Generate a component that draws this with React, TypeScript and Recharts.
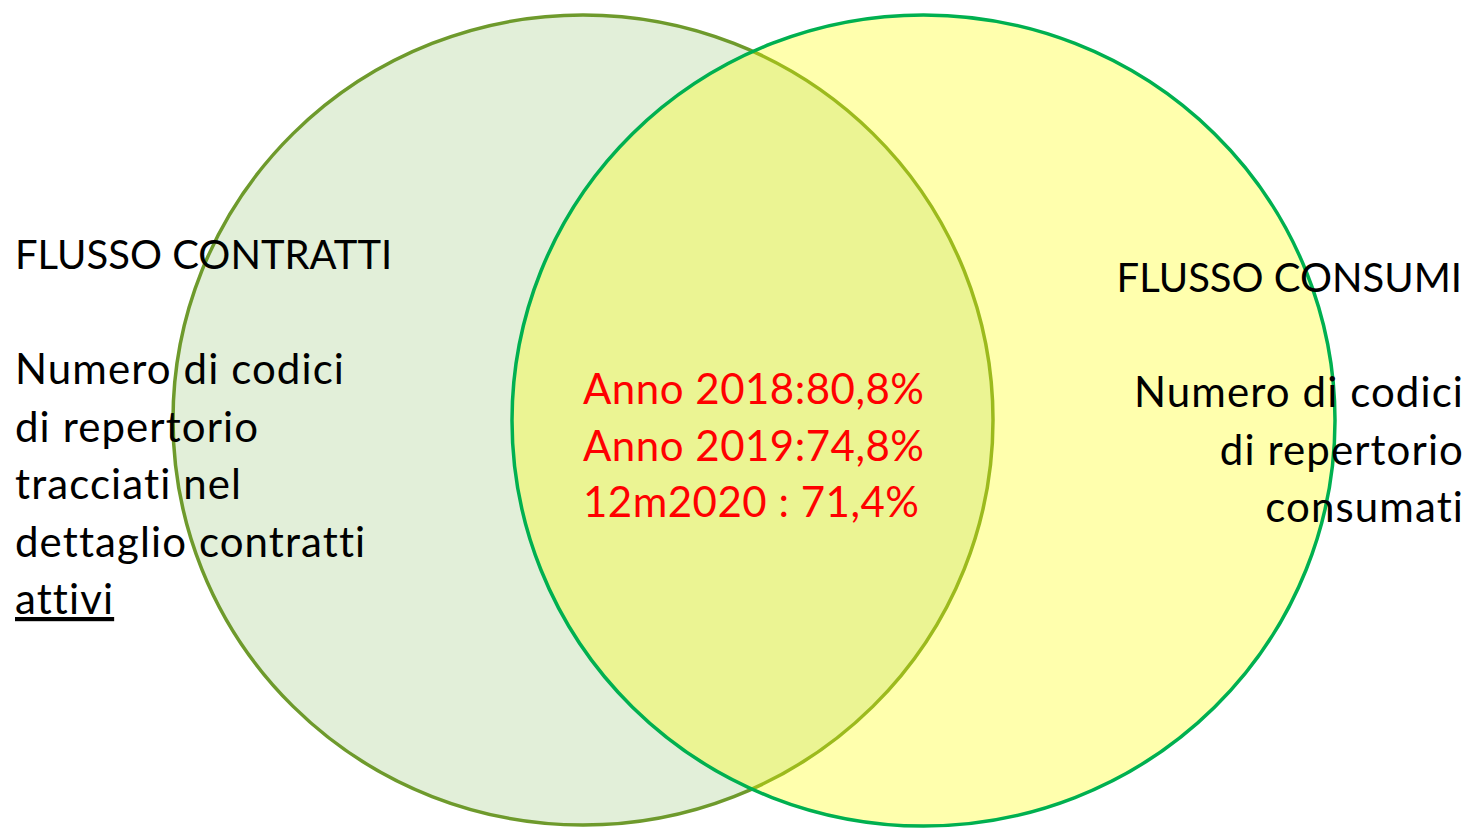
import React from "react";
import { Scatter, ScatterChart, XAxis, YAxis } from "recharts";

// the two sets, in page units (1 unit = 1 px)
const setNames = ["FLUSSO CONTRATTI", "FLUSSO CONSUMI"];
const setCentersX = [583, 923.5];
const setCentersY = [420, 420.5];
const setRadiiX = [410, 411.5];
const setRadiiY = [405, 405.5];

const leftLines = ["FLUSSO CONTRATTI", "", "Numero di codici", "di repertorio", "tracciati nel", "dettaglio contratti", "attivi"];
const rightLines = ["FLUSSO CONSUMI", "", "Numero di codici", "di repertorio", "consumati"];
const overlapLines = ["Anno 2018:80,8%", "Anno 2019:74,8%", "12m2020 : 71,4%"];

const W = 1470;
const H = 828;
const FONT = "Lato, 'Noto Sans', sans-serif";
const LINE = 57.5;

const sets = setNames.map((name, i) => ({
  name,
  x: setCentersX[i],
  y: setCentersY[i],
  rx: setRadiiX[i],
  ry: setRadiiY[i],
}));

const styles = [
  { fill: "#6DB040", fillOpacity: 0.2, stroke: "#6E9A2C" },
  { fill: "#FFFF00", fillOpacity: 0.32, stroke: "#00B050" },
];

const makeShape = (idx: number) => (props: any) => {
  const { cx, cy, payload } = props;
  const s = styles[idx];
  return (
    <ellipse
      cx={cx}
      cy={cy}
      rx={payload.rx}
      ry={payload.ry}
      fill={s.fill}
      fillOpacity={s.fillOpacity}
      stroke={s.stroke}
      strokeWidth={3.5}
    />
  );
};

const lineStyle = (t: string) => {
  const caps = t.startsWith("FLUSSO");
  return {
    fontSize: caps ? 40 : 42,
    letterSpacing: caps ? 0 : 1.1,
  };
};

const Texts = () => (
  <svg
    width={W}
    height={H}
    style={{ position: "absolute", left: 0, top: 0, pointerEvents: "none" }}
    fontFamily={FONT}
  >
    <g style={{ fontVariantLigatures: "none" }}>
      {leftLines.map((t, i) => (
        <text
          key={"l" + i}
          x={15}
          y={269 + i * LINE}
          fill="#000"
          {...lineStyle(t)}
          style={t === "attivi" ? { textDecoration: "underline" } : undefined}
        >
          {t}
        </text>
      ))}
      {rightLines.map((t, i) => (
        <text
          key={"r" + i}
          x={t.startsWith("FLUSSO") ? 1462 : 1464}
          y={292 + i * LINE}
          fill="#000"
          textAnchor="end"
          {...lineStyle(t)}
        >
          {t}
        </text>
      ))}
      {overlapLines.map((t, i) => (
        <text key={"o" + i} x={583} y={404 + i * 56.5} fill="#FF0000" fontSize={42} letterSpacing={0.5}>
          {t}
        </text>
      ))}
    </g>
  </svg>
);

export default function App() {
  return (
    <div style={{ position: "absolute", left: 0, top: 0, width: W, height: H, background: "#fff" }}>
      <ScatterChart width={W} height={H} margin={{ top: 0, right: 0, bottom: 0, left: 0 }}>
        <XAxis type="number" dataKey="x" domain={[0, W]} allowDataOverflow hide />
        <YAxis type="number" dataKey="y" domain={[0, H]} allowDataOverflow reversed hide />
        <Scatter data={[sets[0]]} shape={makeShape(0)} isAnimationActive={false} />
        <Scatter data={[sets[1]]} shape={makeShape(1)} isAnimationActive={false} />
      </ScatterChart>
      <Texts />
    </div>
  );
}
